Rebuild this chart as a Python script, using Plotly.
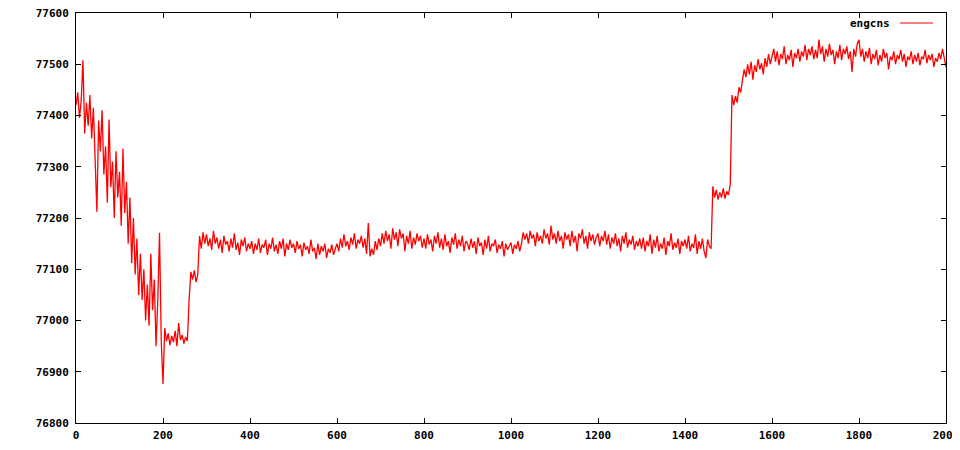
import plotly.graph_objects as go

x_start = 0
x_step = 4

engcns = [
    77420, 77445, 77395, 77430, 77508, 77365, 77425, 77380, 77440, 77355, 77415, 77300, 77212, 77390, 77330, 77410, 77285, 77340, 77230, 77392, 77260, 77310, 77200, 77330, 77240,
    77290, 77185, 77335, 77210, 77270, 77150, 77240, 77112, 77200, 77090, 77160, 77050, 77130, 77040, 77100, 77000, 77070, 76990, 77130, 77020, 77080, 76950, 77040, 77171, 76960,
    76876, 76985, 76960, 76975, 76952, 76970, 76958, 76980, 76950, 76995, 76962, 76972, 76955, 76968, 76960, 77040, 77095, 77080, 77098, 77075, 77090, 77165, 77140, 77172, 77150,
    77168, 77145, 77160, 77138, 77175, 77150, 77162, 77140, 77158, 77132, 77165, 77148, 77155, 77135, 77160, 77142, 77170, 77138, 77152, 77128, 77158, 77145, 77162, 77135, 77150,
    77140, 77155, 77130, 77150, 77138, 77160, 77132, 77148, 77142, 77158, 77128, 77150, 77140, 77162, 77135, 77148, 77130, 77155, 77140, 77160, 77125, 77150, 77138, 77158, 77142,
    77150, 77132, 77155, 77140, 77148, 77125, 77152, 77138, 77145, 77130, 77158, 77135, 77142, 77120, 77150, 77128, 77145, 77135, 77150, 77122, 77140, 77132, 77148, 77128, 77140,
    77150, 77135, 77160, 77142, 77168, 77145, 77155, 77138, 77162, 77148, 77170, 77140, 77158, 77150, 77165, 77142, 77160, 77130, 77190, 77125, 77140, 77128, 77155, 77138, 77160,
    77145, 77170, 77150, 77175, 77155, 77168, 77140, 77180, 77158, 77172, 77145, 77178, 77160, 77170, 77135, 77165, 77150, 77175, 77140, 77162, 77148, 77170, 77155, 77165, 77142,
    77160, 77140, 77168, 77148, 77158, 77135, 77165, 77150, 77172, 77142, 77160, 77138, 77168, 77145, 77155, 77132, 77162, 77148, 77170, 77140, 77158, 77145, 77165, 77135, 77155,
    77150, 77138, 77160, 77142, 77155, 77130, 77162, 77145, 77152, 77128, 77158, 77140, 77165, 77135, 77150, 77145, 77158, 77132, 77148, 77140, 77155, 77125, 77150, 77138, 77145,
    77152, 77130, 77148, 77140, 77155, 77135, 77150, 77172, 77158, 77170, 77150, 77175, 77160, 77168, 77145, 77172, 77155, 77165, 77150, 77178, 77160, 77170, 77148, 77185, 77158,
    77170, 77150, 77175, 77155, 77165, 77140, 77172, 77158, 77168, 77145, 77175, 77152, 77165, 77135, 77170, 77160, 77178, 77150, 77165, 77140, 77172, 77155, 77168, 77148, 77162,
    77170, 77145, 77165, 77155, 77175, 77148, 77168, 77140, 77162, 77150, 77170, 77145, 77160, 77135, 77165, 77150, 77172, 77142, 77158, 77148, 77165, 77138, 77155, 77145, 77160,
    77140, 77162, 77135, 77155, 77145, 77168, 77130, 77158, 77142, 77165, 77135, 77150, 77140, 77162, 77128, 77155, 77145, 77170, 77138, 77152, 77142, 77160, 77130, 77155, 77145,
    77158, 77140, 77165, 77135, 77150, 77142, 77168, 77130, 77155, 77140, 77160, 77135, 77122, 77158, 77145, 77140, 77262, 77240, 77255, 77236, 77250, 77240, 77258, 77238, 77252,
    77245, 77265, 77440, 77420, 77438, 77425, 77455, 77445, 77468, 77490, 77475, 77500, 77480, 77505, 77470, 77498, 77485, 77510, 77490, 77502, 77480, 77512, 77495, 77520, 77500,
    77515, 77530, 77505, 77525, 77498, 77520, 77510, 77535, 77500, 77518, 77508, 77528, 77495, 77522, 77512, 77530, 77505, 77525, 77515, 77538, 77508, 77530, 77518, 77535, 77510,
    77528, 77512, 77548, 77520, 77535, 77505, 77530, 77515, 77540, 77518, 77528, 77500, 77525, 77512, 77538, 77508, 77530, 77520, 77535, 77510, 77525, 77485, 77530, 77515, 77540,
    77548, 77515, 77530, 77505, 77525, 77512, 77532, 77500, 77520, 77510, 77528, 77498, 77518, 77505, 77530, 77512, 77522, 77490, 77515, 77508, 77525, 77500, 77518, 77510, 77528,
    77505, 77520, 77495, 77515, 77508, 77525, 77500, 77518, 77505, 77522, 77498, 77515, 77510, 77528, 77502, 77518, 77508, 77520, 77495, 77512, 77505, 77522, 77510, 77530, 77515,
    77494,
]
x_vals = [x_start + i * x_step for i in range(len(engcns))]

series_name = "engcns"
x_ticks = [0, 200, 400, 600, 800, 1000, 1200, 1400, 1600, 1800, 2000]
y_ticks = [76800, 76900, 77000, 77100, 77200, 77300, 77400, 77500, 77600]

font = dict(family="DejaVu Sans Mono", size=11, color="black", weight="bold")

fig = go.Figure()
fig.add_trace(go.Scatter(x=x_vals, y=engcns, mode="lines", name=series_name,
                         line=dict(color="#ff0000", width=1.3), showlegend=False))

axis_common = dict(showgrid=False, zeroline=False, showline=True, linecolor="black",
                   linewidth=1, mirror="ticks", ticks="inside", ticklen=5,
                   tickcolor="black", tickwidth=1, tickfont=font, automargin=False,
                   ticklabeloverflow="allow")

# the page body adds an 8px margin, so the figure is 8px smaller each way
fig.update_layout(
    width=952, height=442,
    margin=dict(l=68, r=14, t=5, b=27, autoexpand=False),
    paper_bgcolor="white", plot_bgcolor="white",
    xaxis=dict(range=[0, 2000], tickvals=x_ticks, ticktext=[str(v) for v in x_ticks],
               ticklabelstandoff=2, **axis_common),
    yaxis=dict(range=[76800, 77600], tickvals=y_ticks, ticktext=[str(v) for v in y_ticks],
               ticklabelstandoff=4, **axis_common),
    font=font,
)

fig.add_annotation(x=0.938, y=0.9756, xref="paper", yref="paper", text=series_name,
                   showarrow=False, xanchor="right", yanchor="middle", font=font)
fig.add_shape(type="line", xref="paper", yref="paper", x0=0.947, x1=0.985,
              y0=0.9756, y1=0.9756, line=dict(color="#ff0000", width=1))

fig.write_html("out.html")
